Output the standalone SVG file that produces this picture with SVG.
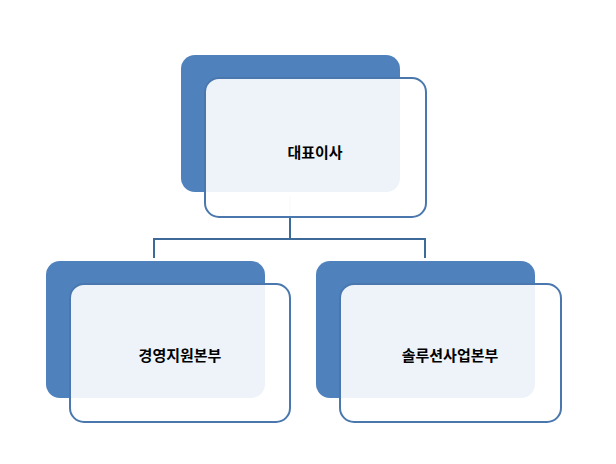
<svg xmlns="http://www.w3.org/2000/svg" width="616" height="464" viewBox="0 0 616 464">
<style>
.b{fill:#4F81BD}
.f{fill:#fff;fill-opacity:0.9;stroke:#4A78AE;stroke-width:2}
.c{stroke:#3E6A9A;stroke-width:2;fill:none}
text{font-family:"Noto Sans CJK KR",sans-serif;font-size:15px;font-weight:bold;fill:#000;text-anchor:middle}
</style>
<rect width="616" height="464" fill="#fff"/>
<g id="connectors">
<line x1="290" y1="196" x2="290" y2="217" stroke="#D6E0EC" stroke-width="2"/>
<path class="c" d="M290 217V239M154 258V239H425V258"/>
</g>
<g id="n1"><rect class="b" x="181" y="55" width="219" height="137" rx="14"/><rect class="f" x="205" y="78" width="221" height="139" rx="14"/><text x="315" y="158">대표이사</text></g>
<g id="n2"><rect class="b" x="46" y="261" width="219" height="137" rx="14"/><rect class="f" x="70" y="284" width="220" height="138" rx="14"/><text x="180" y="361">경영지원본부</text></g>
<g id="n3"><rect class="b" x="316" y="261" width="219" height="137" rx="14"/><rect class="f" x="340" y="284" width="221" height="138" rx="14"/><text x="450" y="361">솔루션사업본부</text></g>
</svg>
